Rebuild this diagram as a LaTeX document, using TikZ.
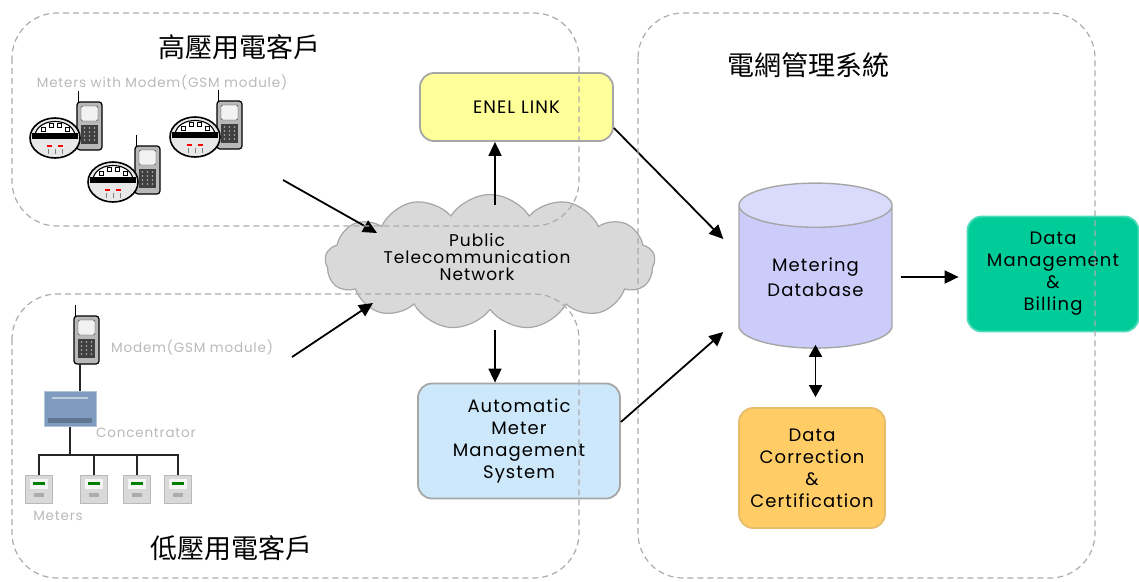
\documentclass[tikz,border=0pt]{standalone}
\usepackage{fontspec}
\setmainfont{Poppins}[LetterSpace=6]
\newfontfamily\cjk{Noto Sans CJK TC}
\usetikzlibrary{shapes.symbols,shapes.geometric,arrows.meta,calc}

\definecolor{enelfill}{HTML}{FFFF99}
\definecolor{ammsfill}{HTML}{CCE8FA}
\definecolor{dmfill}{HTML}{00CC99}
\definecolor{dccfill}{HTML}{FFCC66}
\definecolor{dbbody}{HTML}{CCCCFA}
\definecolor{dbtop}{HTML}{DADAFC}
\definecolor{cloudfill}{HTML}{D9D9D9}
\definecolor{concfill}{HTML}{7F9CC0}

\begin{document}
\begin{tikzpicture}[x=1pt,y=-1pt,
  zone/.style={draw=gray!65, dash pattern=on 6pt off 4pt, line width=1.2pt, rounded corners=45pt},
  procbox/.style={draw=gray!70, line width=1.8pt, rounded corners=14pt, align=center,
                  font=\fontsize{18}{22}\selectfont, inner sep=0pt},
  flow/.style={-{Triangle[length=14pt,width=13pt]}, line width=1.8pt},
  biflow/.style={{Triangle[length=12pt,width=13pt]}-{Triangle[length=12pt,width=13pt]}, line width=1.8pt},
  graylabel/.style={text=gray!55, font=\fontsize{13.5}{15}\selectfont, inner sep=0pt},
  zonetitle/.style={font=\cjk\fontsize{27}{30}\selectfont, inner sep=0pt},
  wire/.style={line width=1.8pt, draw=black!85},
  lvmeter/.style={rectangle, minimum width=27pt, minimum height=28pt, fill=gray!30, draw=gray!55, line width=0.8pt, inner sep=0pt},
  gsmphone/.pic={
    \draw[line width=1.8pt] (1.5,0) -- (1.5,-11);
    \filldraw[fill=gray!55, draw=black, line width=1.2pt, rounded corners=3pt] (0,0) rectangle (25,48);
    \filldraw[fill=gray!10, draw=black!80, rounded corners=1.5pt] (4,4) rectangle (21,19);
    \fill[black!75] (4,23) rectangle (21,42);
    \foreach \r in {26,30,34,38}{\foreach \c in {7.5,12.5,17.5}{\fill[gray!60] (\c,\r) circle (0.8pt);}}
  },
  gsmmeter/.pic={
    \pic at (22,-36) {gsmphone};
    \filldraw[fill=gray!18, draw=black, line width=1.6pt] (0,0) ellipse (25pt and 20pt);
    \filldraw[fill=white, draw=black, line width=1.1pt] (-20,-3) .. controls (-17,-21) and (17,-21) .. (20,-3) -- cycle;
    \foreach \a/\b in {-12/-9,-4/-13,4/-13,12/-9}{\filldraw[fill=white, draw=black, line width=0.8pt] (\a-2,\b-2) rectangle (\a+2,\b+2);}
    \fill[black] (-23,-5) rectangle (23,1);
    \draw[red, line width=1.8pt] (-8,8) -- (-3,8) (3,8) -- (8,8);
    \draw[gray, line width=0.8pt] (-7,11) -- (-7,16) (0,11) -- (0,16) (7,11) -- (7,16);
  }
]
\useasboundingbox (0,0) rectangle (1139,581);

% ---------- high-voltage customers: meters with GSM modems ----------
\node[zonetitle] (hvtitle) at (239,47) {高壓用電客戶};
\node[graylabel] (hvlabel) at (162,82) {Meters with Modem(GSM module)};
\pic at (55,138) {gsmmeter};
\pic at (195,137) {gsmmeter};
\pic at (113,182) {gsmmeter};

% ---------- low-voltage customers: concentrator with meters ----------
\node[zonetitle] (lvtitle) at (231,548) {低壓用電客戶};
\pic at (74,316) {gsmphone};
\coordinate (lvphone) at (80,364);
\node[graylabel, anchor=west] (modemlabel) at (111,347) {Modem(GSM module)};
\node[rectangle, minimum width=52pt, minimum height=35pt, fill=concfill, draw=concfill!60!white, line width=1pt, inner sep=0pt] (conc) at (70,409) {};
\fill[concfill!75!black] ([shift={(-22,9)}]conc.center) rectangle ([shift={(22,14)}]conc.center);
\fill[concfill!50!white] ([shift={(-18,-12)}]conc.center) rectangle ([shift={(18,-10)}]conc.center);
\node[graylabel, anchor=west] (conclabel) at (96,433) {Concentrator};
\node[lvmeter] (m1) at (39,489) {};
\node[lvmeter] (m2) at (94,489) {};
\node[lvmeter] (m3) at (137,489) {};
\node[lvmeter] (m4) at (178,489) {};
\foreach \m in {m1,m2,m3,m4}{
  \fill[gray!8] ([shift={(-9,-10)}]\m.center) rectangle ([shift={(9,0)}]\m.center);
  \fill[green!50!black] ([shift={(-6,-7)}]\m.center) rectangle ([shift={(6,-4)}]\m.center);
  \fill[gray!65] ([shift={(-5,4)}]\m.center) rectangle ([shift={(5,8)}]\m.center);
}
\node[graylabel] (meterlabel) at (58,516) {Meters};
\coordinate (busy) at (0,455);
\draw[wire] (lvphone) -- (lvphone |- conc.north);
\draw[wire] (conc.south) -- (conc.south |- busy);
\draw[wire] (m1.north) |- (m4.north |- busy) -- (m4.north);
\draw[wire] (m2.north) -- (m2.north |- busy);
\draw[wire] (m3.north) -- (m3.north |- busy);

% ---------- communication network ----------
\node[cloud, cloud puffs=13, cloud puff arc=115, aspect=2.4, minimum width=330pt, minimum height=135pt,
      fill=cloudfill, draw=gray!70, line width=1.2pt] (cloud) at (490,262) {};
\node[align=center, font=\fontsize{17}{17}\selectfont, inner sep=0pt] (cloudtext) at (477,257)
      {Public\\Telecommunication\\Network};

\node[procbox, fill=enelfill, minimum width=193pt, minimum height=68pt] (enel) at (516.5,107) {ENEL LINK};
\node[procbox, fill=ammsfill, minimum width=202pt, minimum height=115pt] (amms) at (519,441)
      {Automatic\\Meter\\Management\\System};

% ---------- grid management system ----------
\node[zonetitle] (gridtitle) at (808,65) {電網管理系統};
\node[cylinder, shape border rotate=90, aspect=0.46, minimum width=153pt, minimum height=165pt,
      draw=gray!70, line width=1.4pt, cylinder uses custom fill, cylinder body fill=dbbody,
      cylinder end fill=dbtop, align=center, font=\fontsize{18}{25}\selectfont, inner sep=0pt]
      (db) at (815.5,277) {Metering\\Database};
\node[procbox, fill=dmfill, draw=dmfill!70!white, minimum width=171pt, minimum height=115pt] (dm) at (1053,274)
      {Data\\Management\\\&\\Billing};
\node[procbox, fill=dccfill, draw=dccfill!80!gray, minimum width=146pt, minimum height=120pt] (dcc) at (812,468)
      {Data\\Correction\\\&\\Certification};

% ---------- connectors ----------
\coordinate (hvout) at (283,180);
\coordinate (cloudinA) at (377,233);
\coordinate (lvout) at (292,357);
\coordinate (cloudinB) at (373,303);
\coordinate (upfoot) at (495,205);
\coordinate (downfoot) at (495,330);
\coordinate (enelout) at ($(enel.east)+(0,21)$);
\coordinate (ammsout) at ($(amms.east)+(0,-19)$);
\coordinate (dbinA) at ($(db.west)+(-15,-38)$);
\coordinate (dbinB) at ($(db.west)+(-15,55)$);
\coordinate (dbright) at ($(db.east)+(8,0)$);
\coordinate (dbfoot) at ($(db.south)+(0,-4)$);

\draw[flow] (hvout) -- (cloudinA);
\draw[flow] (lvout) -- (cloudinB);
\draw[flow] (upfoot) -- (upfoot |- enel.south);
\draw[flow] (downfoot) -- (downfoot |- amms.north);
\draw[flow] (enelout) -- (dbinA);
\draw[flow] (ammsout) -- (dbinB);
\draw[flow] (dbright) -- ($(dbright -| dm.west)+(-8,0)$);
\draw[biflow] (dbfoot) -- ($(dbfoot |- dcc.north)+(0,-10)$);

% ---------- dashed zones on top ----------
\draw[zone] (12,13) rectangle (579,226);
\draw[zone] (12,294) rectangle (579,578);
\draw[zone] (638,13) rectangle (1095,578);
\end{tikzpicture}
\end{document}
